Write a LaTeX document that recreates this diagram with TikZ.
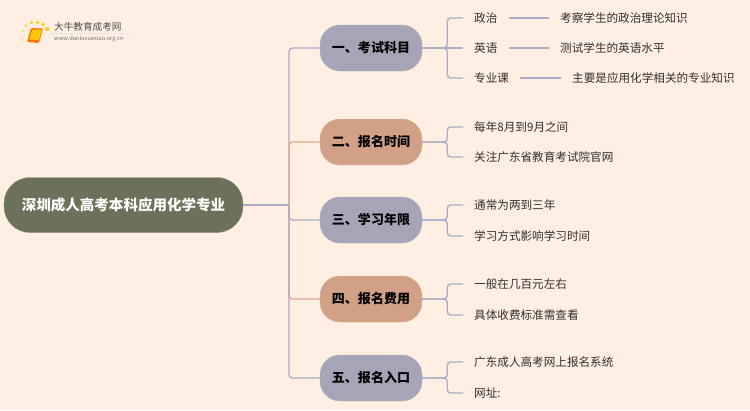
\documentclass[tikz,border=0pt]{standalone}
\usepackage{fontspec}
\setmainfont{Noto Sans CJK SC}
\usepackage{xcolor}
\usetikzlibrary{positioning}
\definecolor{paper}{HTML}{FFEFE2}
\definecolor{slate}{HTML}{A5A5B7}
\definecolor{clay}{HTML}{D2A086}
\definecolor{moss}{HTML}{6B7259}
\definecolor{bluewire}{HTML}{ABAEC6}
\definecolor{clayline}{HTML}{E0AB90}
\definecolor{inkgrey}{HTML}{303030}

\begin{document}
\begin{tikzpicture}[x=0.03cm,y=-0.03cm,
  rootbox/.style={draw=moss!75!white,fill=moss,rounded corners=0.78cm,minimum width=7.17cm,
              minimum height=1.65cm,text=white,font=\fontsize{12.4}{14}\selectfont\bfseries},
  topic/.style={draw=#1!85!white,fill=#1,rounded corners=0.6cm,minimum width=3.06cm,
              minimum height=1.38cm,text=black,font=\fontsize{11.1}{14}\selectfont\bfseries},
  leaf/.style={anchor=west,inner xsep=0.33cm,inner ysep=1pt,text=inkgrey,
              font=\fontsize{9.9}{12}\selectfont},
  wire/.style={bluewire,line width=1.2pt,rounded corners=3pt},
  hotwire/.style={clayline,line width=1.2pt,rounded corners=3pt},
  thin wire/.style={bluewire,line width=1.1pt}
]
  \useasboundingbox (0,0) rectangle (750,410);
  \fill[paper] (0,0) rectangle (750,410);

  % logo
  \node[inner sep=0pt,anchor=west,text=black!70,font=\fontsize{8.2}{10}\selectfont] (logotext) at (54,27) {大牛教育成考网};
  \node[inner sep=0pt,anchor=west,text=black!55,font=\fontsize{4.9}{6}\selectfont] (logourl) at (54,38.5) {www.daniuxuexiao.org.cn};
  \draw[black!10,line width=0.4pt] (50,33.5) -- (132,33.5);
  \fill[orange!90!red,rounded corners=1pt] (31,28) -- (43,28.5) -- (39,43) -- (27,42) -- cycle;
  \fill[yellow!60!orange,rounded corners=0.5pt] (32.5,29.5) -- (42,30) -- (39,40) -- (29,39.5) -- cycle;
  \fill[yellow!70!orange] (47.5,29) circle (2.1);
  \fill[yellow!70!orange] (43,24.5) circle (1.9);
  \fill[yellow!70!orange] (37.5,22.5) circle (1.8);
  \fill[yellow!70!orange] (31.5,22.5) circle (1.7);
  \fill[yellow!60!orange!80] (26,25.5) circle (1.4);
  \fill[yellow!60!orange!70] (22.5,31) circle (1.2);
  \fill[yellow!60!orange!60] (22,37) circle (1);
  \fill[yellow!60!orange!50] (23.5,42.5) circle (0.9);

  % root and topics
  \node[rootbox] (root) at (123.5,205) {深圳成人高考本科应用化学专业};
  \node[topic=slate] (exam) at (371,48) {一、考试科目};
  \node[topic=clay] (signup) at (371,142) {二、报名时间};
  \node[topic=slate] (years) at (371,220) {三、学习年限};
  \node[topic=clay] (fees) at (371,299) {四、报名费用};
  \node[topic=slate] (entry) at (371,378) {五、报名入口};

  % leaves
  \node[leaf] (politics) at (463,18) {政治};
  \node[leaf] (english) at (463,48) {英语};
  \node[leaf] (major) at (463,78) {专业课};
  \node[leaf] (politicsnote) at (549,18) {考察学生的政治理论知识};
  \node[leaf] (englishnote) at (549,48) {测试学生的英语水平};
  \node[leaf] (majornote) at (561,78) {主要是应用化学相关的专业知识};
  \node[leaf] (month) at (463,127) {每年8月到9月之间};
  \node[leaf] (notice) at (463,157) {关注广东省教育考试院官网};
  \node[leaf] (usual) at (463,205) {通常为两到三年};
  \node[leaf] (mode) at (463,236) {学习方式影响学习时间};
  \node[leaf] (amount) at (463,284) {一般在几百元左右};
  \node[leaf] (detail) at (463,315) {具体收费标准需查看};
  \node[leaf] (system) at (463,362) {广东成人高考网上报名系统};
  \node[leaf] (site) at (463,393) {网址:};

  % trunk
  \coordinate (trunk) at (289,205);
  \draw[wire] (trunk) |- (exam.west);
  \draw[hotwire] (trunk) |- (signup.west);
  \draw[hotwire] (trunk) |- (fees.west);
  \draw[wire] (trunk) |- (years.west);
  \draw[wire] (trunk) |- (entry.west);
  \draw[wire] (root.east) -- (trunk);

  % brackets
  \draw[wire] (exam.east) -- ++(25,0) |- (politics.west);
  \draw[wire] (exam.east) -- (english.west);
  \draw[wire] (exam.east) -- ++(25,0) |- (major.west);
  \draw[wire] (signup.east) -- ++(25,0) |- (month.west);
  \draw[wire] (signup.east) -- ++(25,0) |- (notice.west);
  \draw[wire] (years.east) -- ++(25,0) |- (usual.west);
  \draw[wire] (years.east) -- ++(25,0) |- (mode.west);
  \draw[wire] (fees.east) -- ++(25,0) |- (amount.west);
  \draw[wire] (fees.east) -- ++(25,0) |- (detail.west);
  \draw[wire] (entry.east) -- ++(25,0) |- (system.west);
  \draw[wire] (entry.east) -- ++(25,0) |- (site.west);

  \draw[thin wire] (politics.east) -- (politicsnote.west);
  \draw[thin wire] (english.east) -- (englishnote.west);
  \draw[thin wire] (major.east) -- (majornote.west);
\end{tikzpicture}
\end{document}
